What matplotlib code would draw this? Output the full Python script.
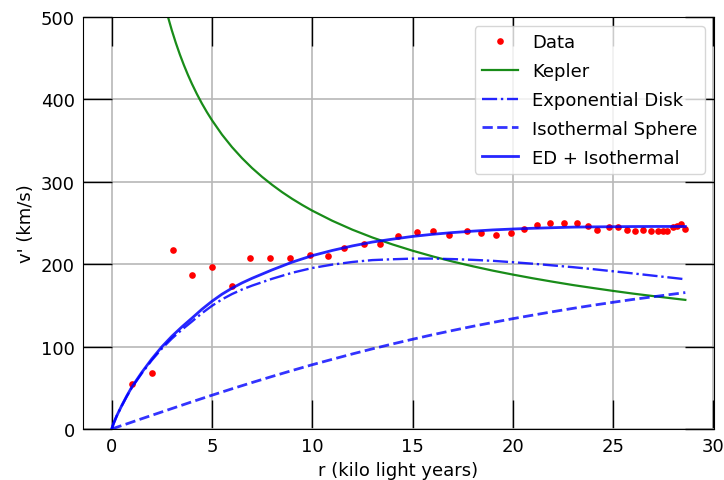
import numpy as np
import matplotlib
matplotlib.use("Agg")
import matplotlib.pyplot as plt

# observed rotation curve (r in kilo light years, v in km/s)
r_data = [1.0, 2.0, 3.05, 4.0, 5.0, 6.0, 6.9, 7.9, 8.9, 9.9, 10.8, 11.6, 12.6, 13.4,
          14.3, 15.2, 16.0, 16.8, 17.7, 18.4, 19.15, 19.9, 20.55, 21.2, 21.85, 22.55,
          23.2, 23.75, 24.2, 24.8, 25.25, 25.7, 26.1, 26.5, 26.9, 27.25, 27.5, 27.7,
          28.0, 28.2, 28.4, 28.6]
v_data = [55, 68, 217, 187, 197, 174, 208, 208, 208, 211, 210, 220, 224, 224,
          234, 239, 240, 235, 240, 238, 236, 238, 243, 248, 250, 250,
          250, 246, 242, 245, 245, 242, 240, 242, 240, 240, 240, 240,
          245, 246, 249, 243]

# Kepler curve
r_kep = [2.5, 2.6, 2.8, 3.0, 3.2, 3.4, 3.6, 3.8, 4.0, 4.25, 4.5, 4.75, 5.0, 5.5, 6.0,
         6.5, 7.0, 7.5, 8.0, 8.5, 9.0, 9.5, 10.0, 11.0, 12.0, 13.0, 14.0, 15.0, 16.0,
         17.0, 18.0, 19.0, 20.0, 21.0, 22.0, 23.0, 24.0, 25.0, 26.0, 27.0, 28.0, 28.6]
v_kep = [530.0, 519.7, 500.8, 483.8, 468.5, 454.5, 441.7, 429.9, 419.0, 406.5, 395.0,
         384.5, 374.8, 357.3, 342.1, 328.7, 316.7, 306.0, 296.3, 287.4, 279.3, 271.9,
         265.0, 252.7, 241.9, 232.4, 224.0, 216.4, 209.5, 203.2, 197.5, 192.2, 187.4,
         182.9, 178.7, 174.7, 171.1, 167.6, 164.3, 161.3, 158.4, 156.7]

# exponential disk, isothermal sphere and their sum
r_mod = [0.0, 0.1, 0.25, 0.5, 0.75, 1.0, 1.5, 2.0, 2.5, 3.0, 3.5, 4.0, 4.5, 5.0, 5.5,
         6.0, 6.5, 7.0, 8.0, 9.0, 10.0, 11.0, 12.0, 13.0, 14.0, 15.0, 16.0, 17.0,
         18.0, 19.0, 20.0, 21.0, 22.0, 23.0, 24.0, 25.0, 26.0, 27.0, 28.0, 28.6]
v_disk = [0.0, 7.0, 15.7, 28.0, 39.4, 50.0, 67.5, 83.4, 97.5, 109.7, 120.5, 130.4,
          140.5, 149.5, 157.3, 163.8, 169.3, 174.0, 182.3, 189.6, 195.4, 199.5,
          202.7, 205.0, 206.0, 206.8, 206.8, 206.2, 205.3, 204.1, 202.4, 200.6,
          198.5, 196.4, 194.0, 191.4, 188.8, 186.1, 183.4, 181.7]
v_iso = [0.0, 0.8, 2.1, 4.2, 6.2, 8.3, 12.5, 16.6, 20.7, 24.8, 28.9, 33.0, 37.0, 41.0,
         44.9, 48.8, 52.6, 56.4, 63.8, 71.0, 78.0, 84.6, 91.1, 97.3, 103.2, 108.9,
         114.4, 119.6, 124.6, 129.3, 133.9, 138.2, 142.4, 146.4, 150.2, 153.8, 157.3,
         160.5, 163.7, 165.6]
v_tot = [0.0, 7.0, 15.8, 28.3, 39.9, 50.7, 68.6, 85.0, 99.7, 112.5, 123.9, 134.5,
         145.3, 155.0, 163.6, 170.9, 177.3, 182.9, 193.1, 202.5, 210.4, 216.7,
         222.2, 226.9, 230.4, 233.7, 236.3, 238.4, 240.1, 241.6, 242.7, 243.6,
         244.3, 245.0, 245.3, 245.5, 245.7, 245.8, 245.8, 245.8]

plt.rcParams['font.size'] = 13

fig = plt.figure(figsize=(7.24, 4.81), dpi=100)
ax = fig.add_axes([0.1146, 0.106, 0.8716, 0.8566])

ax.plot(r_data, v_data, 'o', color='red', ms=4.8, mew=0, label='Data')
ax.plot(r_kep, v_kep, '-', color='green', lw=1.6, alpha=0.9, label='Kepler')
ax.plot(r_mod, v_disk, '-.', color='blue', lw=1.7, alpha=0.85, label='Exponential Disk')
ax.plot(r_mod, v_iso, '--', color='blue', lw=2.0, alpha=0.8, label='Isothermal Sphere')
ax.plot(r_mod, v_tot, '-', color='blue', lw=2.0, alpha=0.85, label='ED + Isothermal')

ax.set_xlim(-1.43, 30.03)
ax.set_ylim(0, 500)
ax.set_xticks([0, 5, 10, 15, 20, 25, 30])
ax.set_yticks([0, 100, 200, 300, 400, 500])
ax.grid(True, color='#b8b8b8', lw=1.2)
ax.tick_params(direction='in', length=21, width=1, top=True, right=True, pad=6)

ax.set_xlabel('r (kilo light years)')
ax.set_ylabel("v' (km/s)")
ax.legend(loc='upper right', labelspacing=0.6)

fig.savefig('out.png', dpi=100)
